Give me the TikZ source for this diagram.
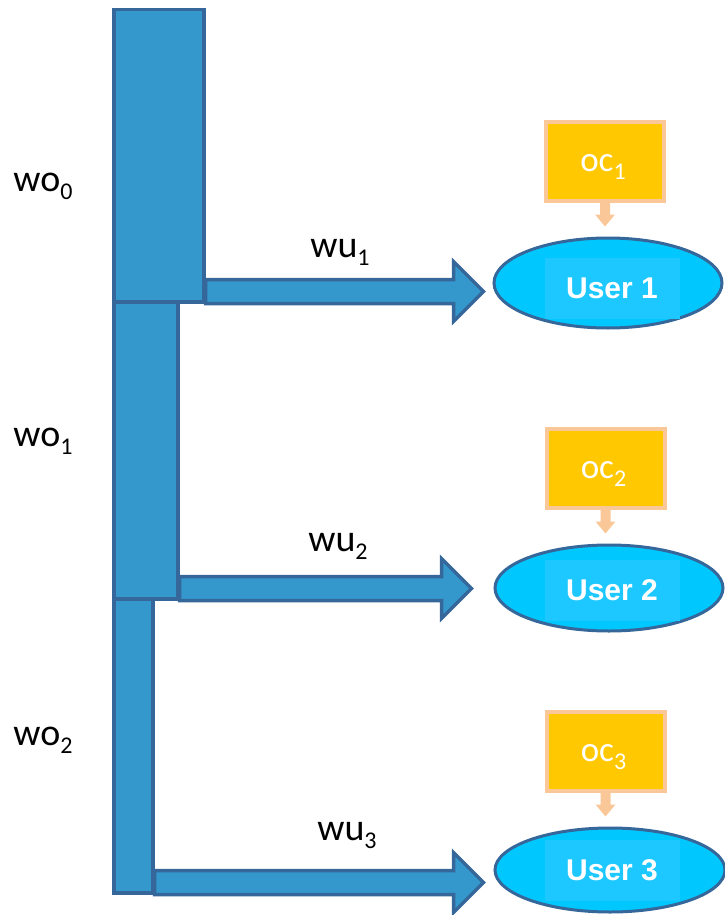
\documentclass[tikz,border=0pt]{standalone}
\usepackage{fontspec}
\setmainfont{Carlito}
\newfontfamily\userfont{Liberation Sans}
\usetikzlibrary{shapes.geometric,calc}
\definecolor{barfill}{RGB}{52,152,204}
\definecolor{barline}{RGB}{53,103,154}
\definecolor{userfill}{RGB}{0,200,255}
\definecolor{usertext}{RGB}{28,200,255}
\definecolor{boxfill}{RGB}{255,200,0}
\definecolor{boxline}{RGB}{250,200,152}
\newcommand\subs[1]{\raisebox{-8pt}{\fontsize{24}{24}\selectfont #1}}
\newcommand\bigarrow[3]{%
  \path let \p1=(#1.south east), \p2=(#2.west) in
    [flow] (\x1,\y1) -- (\x1,\y1+24pt) -- (\x2-#3pt-30pt,\y1+24pt)
    -- (\x2-#3pt-30pt,\y1+42pt) -- (\x2-#3pt,\y1+12pt)
    -- (\x2-#3pt-30pt,\y1-18pt) -- (\x2-#3pt-30pt,\y1) -- cycle;}
\newcommand\smallarrow[2]{%
  \path let \p1=(#1.south), \p2=(#2.north) in
    [feed] (\x1-5pt,\y1) -- (\x1+5pt,\y1) -- (\x1+5pt,\y2+22pt)
    -- (\x1+10pt,\y2+22pt) -- (\x1,\y2+10pt) -- (\x1-10pt,\y2+22pt)
    -- (\x1-5pt,\y2+22pt) -- cycle;}
\begin{document}
\begin{tikzpicture}[x=1pt,y=-1pt,
  barbox/.style={draw=barline,fill=barfill,line width=3.5pt,inner sep=0pt,
    anchor=north west,rectangle},
  flow/.style={draw=barline,fill=barfill,line width=3.5pt,line join=miter},
  feed/.style={fill=boxline},
  userell/.style={ellipse,draw=barline,fill=userfill,line width=3pt,inner sep=0pt},
  usertxt/.style={fill=usertext,inner sep=0pt,minimum width=135pt,minimum height=61pt,
    text=white,font=\userfont\bfseries\fontsize{30}{36}\selectfont},
  ocbox/.style={draw=boxline,fill=boxfill,line width=4pt,inner sep=0pt,
    minimum width=118pt,minimum height=79pt},
  octxt/.style={inner sep=0pt,text=white,font=\fontsize{35}{40}\selectfont},
  lbl/.style={inner sep=0pt,font=\fontsize{38}{44}\selectfont}]
\useasboundingbox (0,0) rectangle (724,915);

% users
\node[userell,minimum width=228pt,minimum height=90pt] (u1) at (608,283) {};
\node[userell,minimum width=228pt,minimum height=86pt] (u2) at (609,588) {};
\node[userell,minimum width=230pt,minimum height=84pt] (u3) at (610,870) {};
\node[usertxt] (t1) at (612,288) {User 1};
\node[usertxt] (t2) at (612,590) {User 2};
\node[usertxt] (t3) at (612,870) {User 3};

% oc boxes
\node[ocbox] (oc1) at (605,161.5) {};
\node[ocbox] (oc2) at (605.5,468.5) {};
\node[ocbox] (oc3) at (605.5,751.5) {};
\node[octxt] (c1) at ($(oc1)+(-2,6)$) {oc\subs{1}};
\node[octxt] (c2) at ($(oc2)+(-2,6)$) {oc\subs{2}};
\node[octxt] (c3) at ($(oc3)+(-2,6)$) {oc\subs{3}};
\smallarrow{oc1}{u1}
\smallarrow{oc2}{u2}
\smallarrow{oc3}{u3}

% bars (nodes sized to the bars)
\node[barbox,minimum width=90pt,minimum height=292pt] (bar1) at (112,8) {};
\node[barbox,minimum width=64pt,minimum height=297pt] (bar2) at (112,300) {};
\node[barbox,minimum width=39pt,minimum height=294pt] (bar3) at (112,597) {};

% arrows
\bigarrow{bar1}{u1}{9}
\bigarrow{bar2}{u2}{22}
\bigarrow{bar3}{u3}{10}
% redraw bars on top so their borders show
\node[barbox,minimum width=90pt,minimum height=292pt] at (112,8) {};
\node[barbox,minimum width=64pt,minimum height=297pt] at (112,300) {};
\node[barbox,minimum width=39pt,minimum height=294pt] at (112,597) {};

% labels
\node[lbl] (wo0) at (43,186) {wo\subs{0}};
\node[lbl] (wo1) at (43,441) {wo\subs{1}};
\node[lbl] (wo2) at (43,740) {wo\subs{2}};
\node[lbl] (wu1) at (340,252) {wu\subs{1}};
\node[lbl] (wu2) at (338,546) {wu\subs{2}};
\node[lbl] (wu3) at (347,835) {wu\subs{3}};
\end{tikzpicture}
\end{document}
